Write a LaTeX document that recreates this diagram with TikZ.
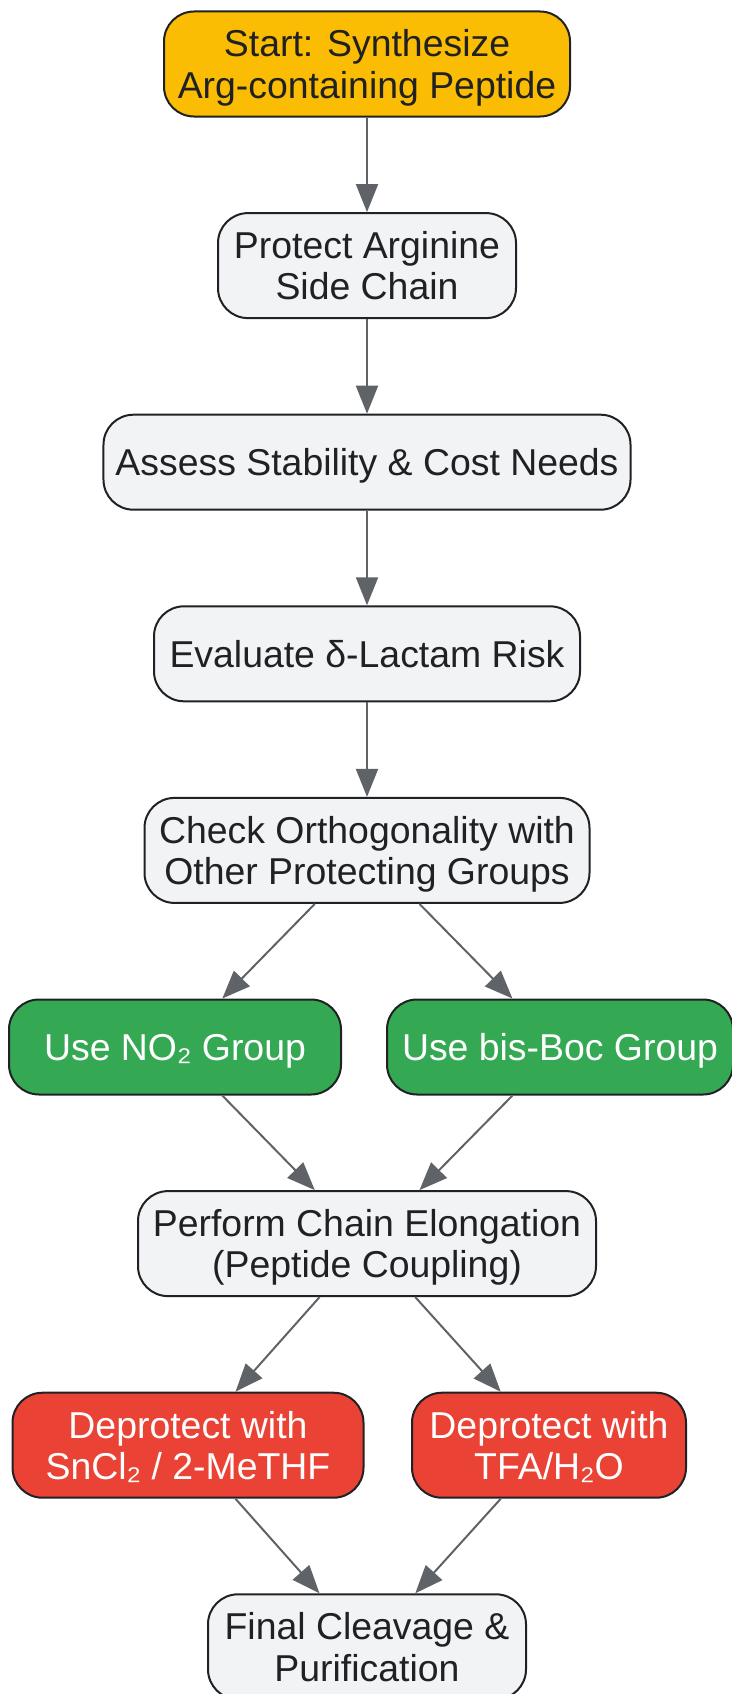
\documentclass[tikz,border=0pt]{standalone}
\usepackage{fontspec}
\setmainfont{Liberation Sans}
\usetikzlibrary{positioning,arrows.meta}

\definecolor{boxline}{HTML}{202124}
\definecolor{greybox}{HTML}{F1F3F4}
\definecolor{yellowbox}{HTML}{FBBC04}
\definecolor{greenbox}{HTML}{34A853}
\definecolor{redbox}{HTML}{EA4335}
\definecolor{arrowgrey}{HTML}{5F6368}

\begin{document}
\begin{tikzpicture}[x=1pt, y=1pt, node distance={94.6pt}, line width=2pt,
    >={Triangle[length=28pt,width=22pt]},
    main/.style = {draw=boxline, fill=greybox, text=boxline, rounded corners=30pt, align=center,
        minimum height=95pt, inner xsep=12pt, text depth=0pt, font=\fontsize{37.4}{41.5}\selectfont},
    startbox/.style = {main, fill=yellowbox},
    goodbox/.style = {main, fill=greenbox, text=white},
    badbox/.style = {main, fill=redbox, text=white},
    link/.style = {->, draw=arrowgrey}]
            \useasboundingbox (0,0) rectangle (731,-1694);
            \node[startbox, minimum width=406pt, minimum height=105pt] (n_start) at (367,-64) {Start: Synthesize\\Arg-containing Peptide};
            \node[main, minimum width=298pt, minimum height=105pt] (n_protect) [below=of n_start] {Protect Arginine\\Side Chain};
            \node[main, minimum width=527pt] (n_assess) [below=of n_protect] {Assess Stability \& Cost Needs};
            \node[main, minimum width=426pt] (n_lactam) [below=of n_assess] {Evaluate δ-Lactam Risk};
            \node[main, minimum width=445pt, minimum height=105pt] (n_ortho) [below=of n_lactam] {Check Orthogonality with\\Other Protecting Groups};
            \node[goodbox, minimum width=332pt] (n_nitro) [below=of n_ortho, xshift=-192pt] {Use NO₂ Group};
            \node[goodbox, minimum width=346pt] (n_boc) [below=of n_ortho, xshift=193pt] {Use bis-Boc Group};
            \node[main, minimum width=458pt, minimum height=105pt] (n_couple) [below=of n_nitro, xshift=192pt] {Perform Chain Elongation\\(Peptide Coupling)};
            \node[badbox, minimum width=351pt, minimum height=105pt] (n_sncl) [below=of n_couple, xshift=-179pt] {Deprotect with\\SnCl₂ / 2-MeTHF};
            \node[badbox, minimum width=274pt, minimum height=105pt] (n_tfa) [below=of n_couple, xshift=182pt] {Deprotect with\\TFA/H₂O};
            \node[main, minimum width=318pt, minimum height=105pt] (n_final) [below=of n_sncl, xshift=179pt] {Final Cleavage \&\\Purification};

            \draw[link] (n_start) -- (n_protect);
            \draw[link] (n_protect) -- (n_assess);
            \draw[link] (n_assess) -- (n_lactam);
            \draw[link] (n_lactam) -- (n_ortho);
            \draw[link] (n_ortho) -- (n_nitro);
            \draw[link] (n_ortho) -- (n_boc);
            \draw[link] (n_nitro) -- (n_couple);
            \draw[link] (n_boc) -- (n_couple);
            \draw[link] (n_couple) -- (n_sncl);
            \draw[link] (n_couple) -- (n_tfa);
            \draw[link] (n_sncl) -- (n_final);
            \draw[link] (n_tfa) -- (n_final);
        \end{tikzpicture}
\end{document}
